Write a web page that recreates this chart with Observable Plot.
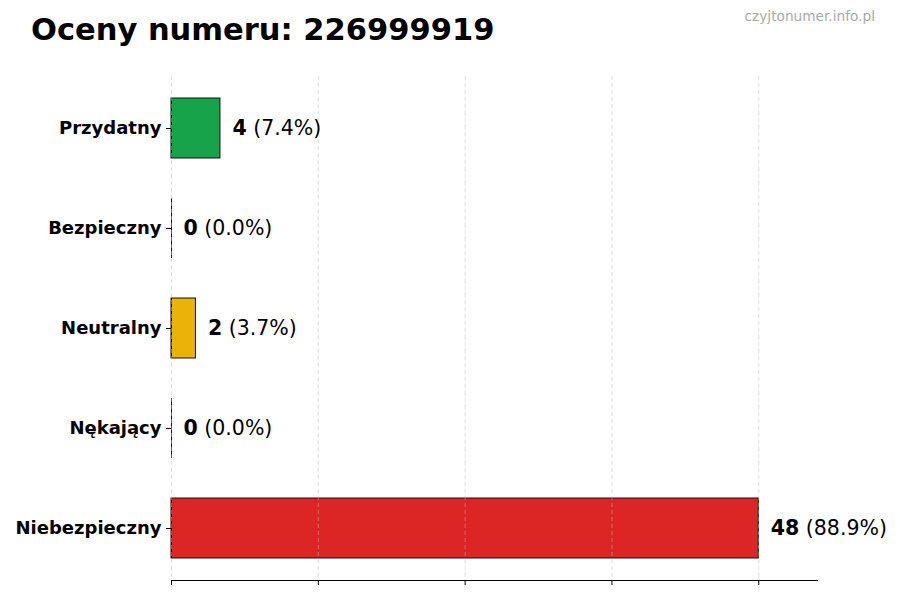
<!DOCTYPE html>
<html>
<head>
<meta charset="utf-8">
<script src="https://cdn.jsdelivr.net/npm/d3@7"></script>
<script src="https://cdn.jsdelivr.net/npm/@observablehq/plot@0.6"></script>
<style>
  body { margin: 0; background: #fff; }
  #wrap { position: relative; width: 900px; height: 600px; font-family: "DejaVu Sans", sans-serif; }
  #title { position: absolute; left: 31px; top: 15px; font-size: 30.5px; font-weight: bold; color: #000; line-height: 1; }
  #mark { position: absolute; right: 25px; top: 10px; font-size: 13.7px; color: #aaa; line-height: 1; }
  #chart { position: absolute; left: 0; top: 0; }
</style>
</head>
<body>
<div id="wrap">
  <div id="chart"></div>
  <div id="title">Oceny numeru: 226999919</div>
  <div id="mark">czyjtonumer.info.pl</div>
</div>
<script>
const categories = ["Przydatny", "Bezpieczny", "Neutralny", "Nękający", "Niebezpieczny"];
const counts = [4, 0, 2, 0, 48];
const percents = ["7.4%", "0.0%", "3.7%", "0.0%", "88.9%"];
const colors = ["#16a34a", "#2563eb", "#eab308", "#f97316", "#dc2626"];
const xTicks = [0, 12, 24, 36, 48];

const data = categories.map((c, i) => ({cat: c, count: counts[i], pct: percents[i], color: colors[i]}));

const chart = Plot.plot({
  width: 900,
  height: 600,
  marginTop: 76,
  marginBottom: 20,
  marginLeft: 171,
  marginRight: 83,
  style: {fontFamily: "DejaVu Sans, sans-serif", background: "transparent"},
  x: {domain: [0, 52.8]},
  y: {domain: categories, paddingInner: 0.4, paddingOuter: 0.22},
  marks: [
    Plot.barX(data, {x: "count", y: "cat", fill: "color", stroke: "#111", strokeWidth: 1}),
    Plot.tickX(data, {x: d => 0, y: "cat", stroke: "#111", strokeWidth: 1}),
    Plot.ruleX(xTicks, {stroke: "#bbb", strokeOpacity: 0.6, strokeWidth: 0.8, strokeDasharray: "4,3"}),
    Plot.frame({anchor: "bottom", stroke: "#000", strokeWidth: 1}),
    Plot.axisX({ticks: xTicks, tickFormat: () => "", tickSize: 5, stroke: "#000", label: null}),
    Plot.axisY({tickSize: 5, tickPadding: 5, fontSize: 18, fontWeight: "bold", fill: "#000", label: null}),
    Plot.text(data, {x: "count", y: "cat", text: d => d.count + " (" + d.pct + ")", dx: 12, textAnchor: "start", fontSize: 20.5, fill: "#000"})
  ]
});
document.getElementById("chart").appendChild(chart);

d3.select(chart).selectAll("text").each(function () {
  const t = d3.select(this);
  const s = t.text();
  if (!/^\d+ \(/.test(s)) return;
  const k = s.indexOf(" ");
  t.text(null);
  t.append("tspan").attr("font-weight", "bold").text(s.slice(0, k));
  t.append("tspan").text(s.slice(k));
});
</script>
</body>
</html>
